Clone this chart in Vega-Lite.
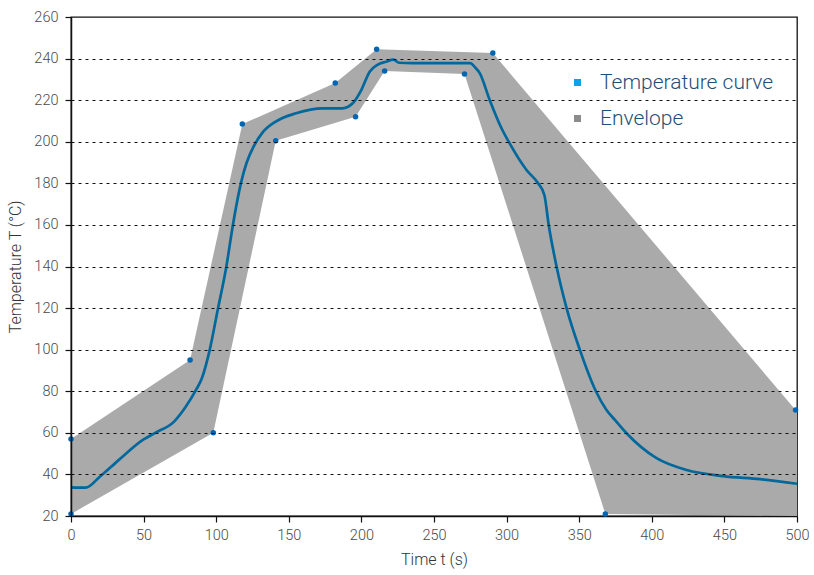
{
  "$schema": "https://vega.github.io/schema/vega-lite/v6.json",
  "width": 726,
  "height": 499,
  "autosize": {"type": "none"},
  "padding": {"left": 71, "top": 17, "right": 17, "bottom": 59},
  "config": {
    "view": {"stroke": "#111111", "strokeWidth": 1.3},
    "font": "Roboto",
    "axis": {
      "domainColor": "#111111",
      "domainWidth": 1.5,
      "tickColor": "#111111",
      "tickWidth": 1.2,
      "tickSize": 6,
      "labelFont": "Roboto",
      "labelFontSize": 14.5,
      "labelFontWeight": 300,
      "labelColor": "#4a4a4a",
      "titleFont": "Roboto",
      "titleFontSize": 16,
      "titleFontWeight": 300,
      "titleColor": "#333333",
      "labelOverlap": false,
      "labelFlush": false
    }
  },
  "datasets": {
    "envelope": [
      {"i": 1, "t": 0, "T": 57, "dot": true},
      {"i": 2, "t": 82, "T": 95, "dot": true},
      {"i": 3, "t": 118, "T": 208.5, "dot": true},
      {"i": 4, "t": 182, "T": 228.3, "dot": true},
      {"i": 5, "t": 210.5, "T": 244.5, "dot": true},
      {"i": 6, "t": 290.5, "T": 242.7, "dot": true},
      {"i": 7, "t": 499, "T": 71, "dot": true},
      {"i": 8, "t": 500, "T": 71, "dot": false},
      {"i": 9, "t": 500, "T": 20, "dot": false},
      {"i": 10, "t": 368, "T": 21, "dot": true},
      {"i": 11, "t": 271, "T": 232.6, "dot": true},
      {"i": 12, "t": 216, "T": 234, "dot": true},
      {"i": 13, "t": 196, "T": 212, "dot": true},
      {"i": 14, "t": 141, "T": 200.5, "dot": true},
      {"i": 15, "t": 98, "T": 60, "dot": true},
      {"i": 16, "t": 0, "T": 21, "dot": true}
    ],
    "curve": [
      {"t": 0, "T": 33.8}, {"t": 10, "T": 33.6}, {"t": 20, "T": 39}, {"t": 33, "T": 47},
      {"t": 50, "T": 56.8}, {"t": 58, "T": 60}, {"t": 71, "T": 65.4}, {"t": 79, "T": 72.5},
      {"t": 86, "T": 80.5}, {"t": 90, "T": 86}, {"t": 95.5, "T": 99.8}, {"t": 101, "T": 119},
      {"t": 107, "T": 140}, {"t": 111.5, "T": 160}, {"t": 117, "T": 180}, {"t": 121, "T": 190},
      {"t": 126, "T": 198}, {"t": 132, "T": 204.5}, {"t": 141, "T": 209.7}, {"t": 155, "T": 213.7},
      {"t": 173, "T": 216.1}, {"t": 187, "T": 216.1}, {"t": 194, "T": 218.5}, {"t": 200, "T": 225},
      {"t": 205.7, "T": 233.7}, {"t": 211, "T": 237}, {"t": 217, "T": 238.5}, {"t": 222, "T": 239.5},
      {"t": 226, "T": 238}, {"t": 235, "T": 237.8}, {"t": 275, "T": 237.8}, {"t": 278, "T": 236},
      {"t": 281.5, "T": 233}, {"t": 288.4, "T": 220}, {"t": 296.5, "T": 206.5}, {"t": 302, "T": 199.3},
      {"t": 313.7, "T": 186.4}, {"t": 321.7, "T": 180}, {"t": 326, "T": 174.4}, {"t": 329, "T": 160},
      {"t": 334.4, "T": 140}, {"t": 341.3, "T": 120}, {"t": 350.4, "T": 100}, {"t": 361.5, "T": 80},
      {"t": 368.8, "T": 71}, {"t": 374.6, "T": 66.2}, {"t": 382.6, "T": 59.8}, {"t": 403.3, "T": 47.8},
      {"t": 424, "T": 42.1}, {"t": 449, "T": 39.2}, {"t": 474.5, "T": 37.7}, {"t": 500, "T": 35.5}
    ],
    "series": [
      {"series": "Temperature curve"},
      {"series": "Envelope"}
    ]
  },
  "layer": [
    {
      "data": {"name": "envelope"},
      "mark": {"type": "line", "fill": "#aaaaaa", "stroke": "#aaaaaa", "strokeWidth": 0, "clip": true, "interpolate": "linear-closed"},
      "encoding": {
        "x": {
          "field": "t",
          "type": "quantitative",
          "scale": {"domain": [0, 500], "nice": false, "zero": false},
          "axis": {
            "title": "Time t (s)",
            "values": [0, 25, 50, 75, 100, 125, 150, 175, 200, 225, 250, 275, 300, 325, 350, 375, 400, 425, 450, 475, 500],
            "labelExpr": "datum.value % 50 === 0 ? datum.label : ''",
            "grid": false,
            "labelPadding": 6,
            "titlePadding": 10,
            "tickSize": {"condition": {"test": "datum.value % 50 === 0", "value": 6}, "value": 3}
          }
        },
        "y": {
          "field": "T",
          "type": "quantitative",
          "scale": {"domain": [20, 260], "nice": false, "zero": false},
          "axis": {
            "title": "Temperature T (°C)",
            "values": [20, 30, 40, 50, 60, 70, 80, 90, 100, 110, 120, 130, 140, 150, 160, 170, 180, 190, 200, 210, 220, 230, 240, 250, 260],
            "labelExpr": "datum.value % 20 === 0 ? datum.label : ''",
            "grid": true,
            "gridColor": "#111111",
            "gridDash": [3, 4],
            "gridWidth": 1,
            "gridOpacity": {"condition": {"test": "datum.value % 20 === 0 && datum.value > 20 && datum.value < 260", "value": 1}, "value": 0},
            "tickSize": {"condition": {"test": "datum.value % 20 === 0", "value": 6}, "value": 3},
            "labelPadding": 7,
            "titlePadding": 10,
            "zindex": 1
          }
        },
        "order": {"field": "i", "type": "quantitative"}
      }
    },
    {
      "data": {"name": "curve"},
      "mark": {"type": "line", "strokeWidth": 2.7, "interpolate": "monotone", "clip": true, "color": "#00689c"},
      "encoding": {
        "x": {"field": "t", "type": "quantitative"},
        "y": {"field": "T", "type": "quantitative"}
      }
    },
    {
      "data": {"name": "envelope"},
      "transform": [{"filter": "datum.dot"}],
      "mark": {"type": "point", "filled": true, "size": 30, "opacity": 1, "color": "#0066b3"},
      "encoding": {
        "x": {"field": "t", "type": "quantitative"},
        "y": {"field": "T", "type": "quantitative"}
      }
    },
    {
      "data": {"name": "series"},
      "mark": {"type": "square", "opacity": 0, "size": 49},
      "encoding": {
        "color": {
          "field": "series",
          "type": "nominal",
          "scale": {"domain": ["Temperature curve", "Envelope"], "range": ["#0aa3e8", "#8c8c8c"]},
          "legend": {
            "title": null,
            "orient": "none",
            "legendX": 496,
            "legendY": 55,
            "symbolType": "square",
            "symbolSize": 49,
            "symbolOpacity": 1,
            "symbolStrokeWidth": 0,
            "labelFont": "Roboto",
            "labelFontSize": 21,
            "labelFontWeight": 300,
            "labelColor": "#1f4e79",
            "labelLimit": 400,
            "labelOffset": 12,
            "rowPadding": 14
          }
        }
      }
    }
  ]
}
